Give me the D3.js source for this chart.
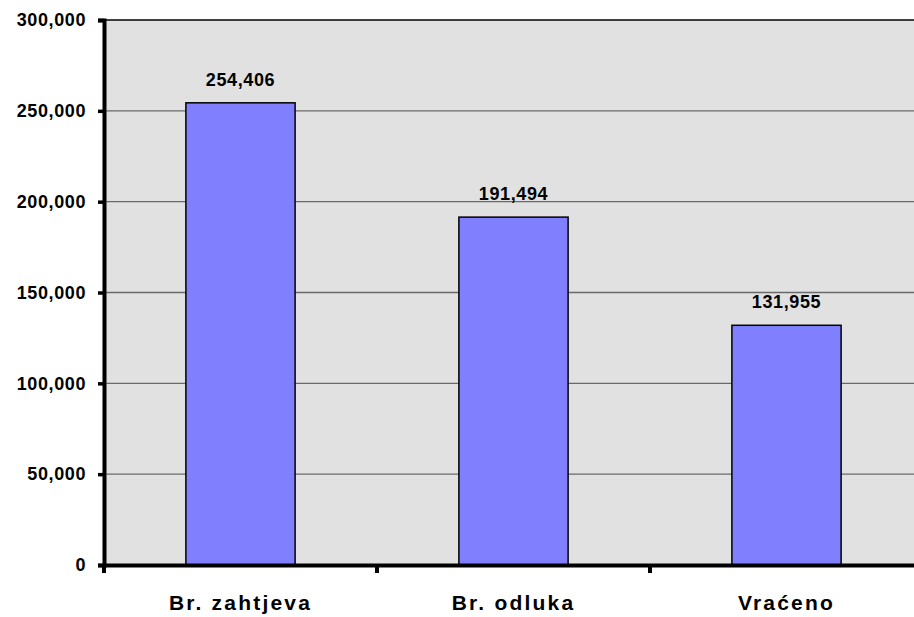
<!DOCTYPE html>
<html><head><meta charset="utf-8">
<script src="https://cdn.jsdelivr.net/npm/d3@7"></script>
<style>body{margin:0;background:#fff;} svg{display:block;}</style>
</head><body>
<svg id="chart" width="914" height="617"></svg>
<script>
const categories = ["Br. zahtjeva", "Br. odluka", "Vraćeno"];
const values = [254406, 191494, 131955];
const yTicks = [0, 50000, 100000, 150000, 200000, 250000, 300000];

const svg = d3.select("#chart");
const pLeft = 104, pRight = 923, pTop = 20, pBottom = 565;
const x = d3.scaleBand().domain(categories).range([pLeft, pRight]).paddingInner(0).paddingOuter(0);
const y = d3.scaleLinear().domain([0, 300000]).range([pBottom, pTop]);
const fmt = d3.format(",");
const FONT = "Arial, 'Liberation Sans', sans-serif";

svg.append("rect").attr("x", pLeft).attr("y", pTop).attr("width", pRight - pLeft).attr("height", pBottom - pTop)
  .attr("fill", "#e1e1e1");

// gridlines
svg.append("g").selectAll("line").data(yTicks.filter(d => d > 0 && d < 300000)).join("line")
  .attr("x1", pLeft).attr("x2", pRight).attr("y1", d => y(d)).attr("y2", d => y(d))
  .attr("stroke", "#6a6a6a").attr("stroke-width", 1.3);
// top border
svg.append("line").attr("x1", pLeft).attr("x2", pRight).attr("y1", y(300000)).attr("y2", y(300000))
  .attr("stroke", "#000").attr("stroke-width", 1.5);

// bars
const bw = x.bandwidth() * 0.4;
svg.append("g").selectAll("rect").data(values).join("rect")
  .attr("x", (d, i) => x(categories[i]) + (x.bandwidth() - bw) / 2)
  .attr("y", d => y(d)).attr("width", bw).attr("height", d => pBottom - y(d))
  .attr("fill", "#8080ff").attr("stroke", "#000").attr("stroke-width", 1.5);

// value labels
svg.append("g").selectAll("text").data(values).join("text")
  .attr("x", (d, i) => x(categories[i]) + x.bandwidth() / 2)
  .attr("y", d => y(d) - 17)
  .attr("text-anchor", "middle")
  .attr("font-family", FONT).attr("font-weight", "bold")
  .attr("font-size", 18).attr("letter-spacing", 0.6)
  .text(d => fmt(d));

// y axis
const yAxis = svg.append("g").attr("transform", `translate(${pLeft},0)`)
  .call(d3.axisLeft(y).tickValues(yTicks).tickFormat(fmt).tickSize(6).tickPadding(12));
yAxis.select(".domain").attr("stroke", "#000").attr("stroke-width", 4);
yAxis.selectAll(".tick line").attr("stroke", "#000").attr("stroke-width", 3.5);
yAxis.selectAll(".tick text").attr("font-family", FONT)
  .attr("font-weight", "bold").attr("font-size", 18).attr("letter-spacing", 0.6).attr("fill", "#000");

// x axis
const xAxis = svg.append("g").attr("transform", `translate(0,${pBottom})`)
  .call(d3.axisBottom(x).tickSize(0).tickPadding(30));
xAxis.select(".domain").attr("stroke", "#000").attr("stroke-width", 4);
xAxis.selectAll(".tick text").attr("font-family", FONT)
  .attr("font-weight", "bold").attr("font-size", 21).attr("letter-spacing", 2.2).attr("fill", "#000");
// category boundary ticks
const bounds = categories.map(c => x(c));
svg.append("g").selectAll("line").data(bounds).join("line")
  .attr("x1", d => d).attr("x2", d => d).attr("y1", pBottom).attr("y2", pBottom + 8)
  .attr("stroke", "#000").attr("stroke-width", 4);
</script>
</body></html>
